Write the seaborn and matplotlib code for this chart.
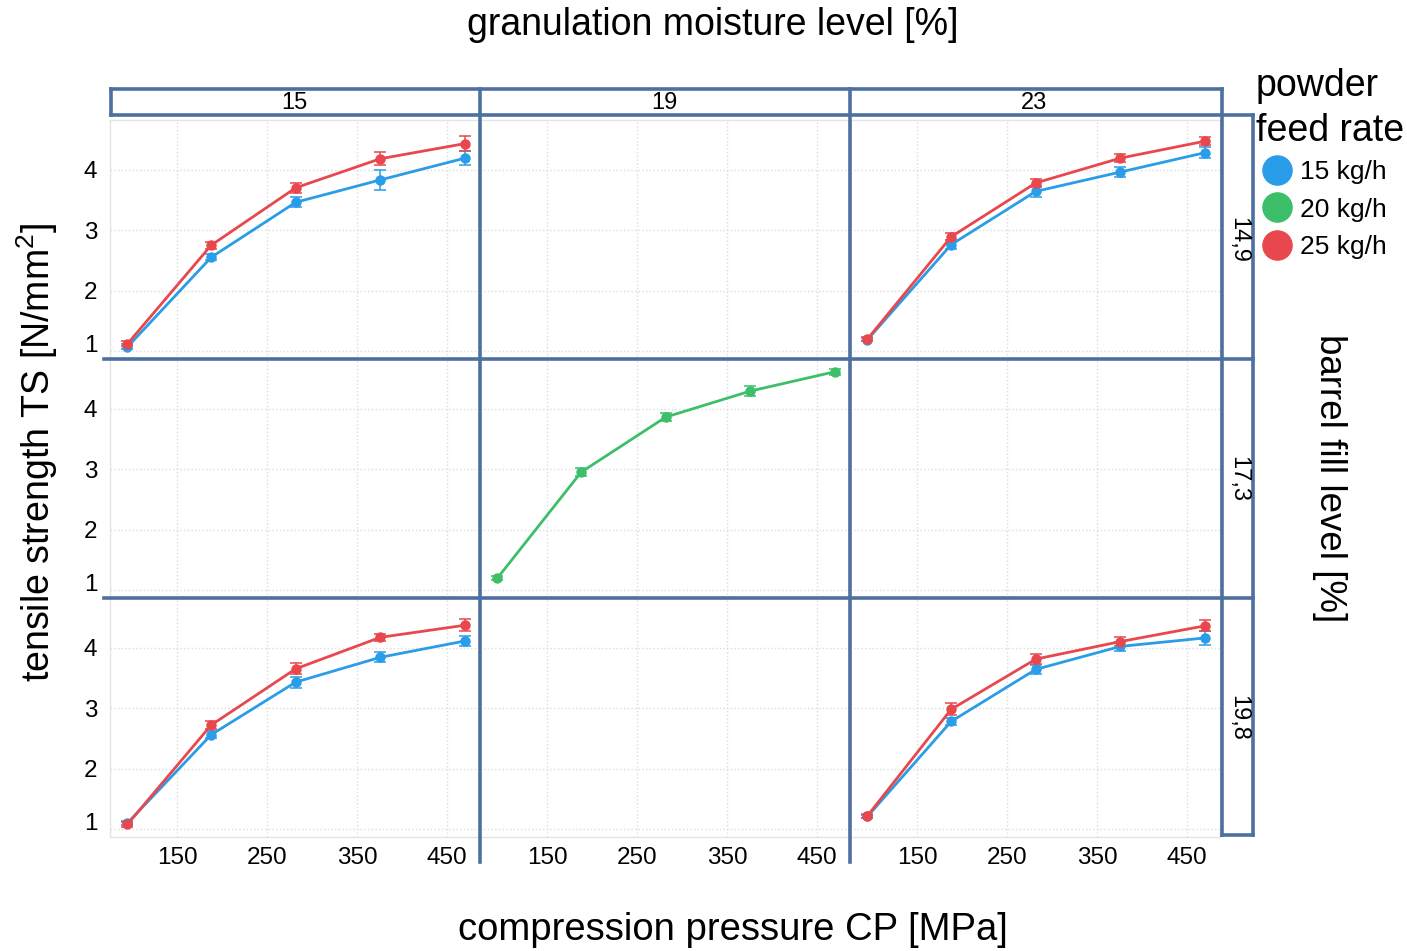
import matplotlib
matplotlib.use("Agg")
import matplotlib.pyplot as plt
from matplotlib.lines import Line2D
import matplotlib.transforms as mtransforms
import numpy as np
import pandas as pd
import seaborn as sns

# ---- data -------------------------------------------------------------
pressure = [95, 188, 282, 376, 470]            # compression pressure CP [MPa]
moisture_levels = ["15", "19", "23"]            # granulation moisture level [%]
fill_levels = ["14,9", "17,3", "19,8"]          # barrel fill level [%]
feed_rates = ["15 kg/h", "20 kg/h", "25 kg/h"]  # powder feed rate

# tensile strength TS [N/mm^2] and its error, per (fill level, moisture, feed rate)
ts_149_15_15 = [1.07, 2.55, 3.46, 3.83, 4.19]
ts_149_15_25 = [1.12, 2.75, 3.70, 4.18, 4.43]
ts_149_23_15 = [1.19, 2.76, 3.64, 3.96, 4.28]
ts_149_23_25 = [1.20, 2.89, 3.78, 4.19, 4.47]
ts_173_19_20 = [1.20, 2.95, 3.86, 4.29, 4.61]
ts_198_15_15 = [1.10, 2.56, 3.43, 3.84, 4.11]
ts_198_15_25 = [1.08, 2.72, 3.65, 4.17, 4.37]
ts_198_23_15 = [1.21, 2.78, 3.64, 4.02, 4.16]
ts_198_23_25 = [1.22, 2.98, 3.81, 4.10, 4.36]

err_149_15_15 = [0.04, 0.05, 0.08, 0.16, 0.11]
err_149_15_25 = [0.04, 0.06, 0.08, 0.11, 0.13]
err_149_23_15 = [0.03, 0.07, 0.09, 0.08, 0.09]
err_149_23_25 = [0.03, 0.06, 0.06, 0.07, 0.07]
err_173_19_20 = [0.03, 0.07, 0.06, 0.08, 0.05]
err_198_15_15 = [0.03, 0.06, 0.09, 0.08, 0.08]
err_198_15_25 = [0.04, 0.07, 0.09, 0.06, 0.10]
err_198_23_15 = [0.03, 0.06, 0.07, 0.08, 0.11]
err_198_23_25 = [0.03, 0.10, 0.08, 0.08, 0.09]

series = [
    ("14,9", "15", "15 kg/h", ts_149_15_15, err_149_15_15),
    ("14,9", "15", "25 kg/h", ts_149_15_25, err_149_15_25),
    ("14,9", "23", "15 kg/h", ts_149_23_15, err_149_23_15),
    ("14,9", "23", "25 kg/h", ts_149_23_25, err_149_23_25),
    ("17,3", "19", "20 kg/h", ts_173_19_20, err_173_19_20),
    ("19,8", "15", "15 kg/h", ts_198_15_15, err_198_15_15),
    ("19,8", "15", "25 kg/h", ts_198_15_25, err_198_15_25),
    ("19,8", "23", "15 kg/h", ts_198_23_15, err_198_23_15),
    ("19,8", "23", "25 kg/h", ts_198_23_25, err_198_23_25),
]

rows = []
for fill, moist, rate, ts, err in series:
    for cp, v, e in zip(pressure, ts, err):
        rows.append({"fill": fill, "moisture": moist, "rate": rate,
                     "CP": cp, "TS": v, "err": e})
df = pd.DataFrame(rows)

palette = {"15 kg/h": "#2a9de8", "20 kg/h": "#3dbf6a", "25 kg/h": "#e8484d"}
frame = "#4d70a0"

# ---- style ------------------------------------------------------------
sns.set_theme(style="white")
plt.rcParams["font.family"] = ["Liberation Sans", "DejaVu Sans"]
plt.rcParams["mathtext.fontset"] = "custom"
plt.rcParams["mathtext.rm"] = "Liberation Sans"
plt.rcParams["mathtext.it"] = "Liberation Sans"
plt.rcParams["text.color"] = "black"
plt.rcParams["xtick.color"] = "black"
plt.rcParams["ytick.color"] = "black"

W, H = 1407, 951
fig = plt.figure(figsize=(W / 100, H / 100), dpi=100)


def fx(x):
    return x / W


def fy(y):
    return 1 - y / H


col_left = [110, 480, 850]
col_w = 370
row_top = [120, 359, 598]
row_h = 239

tick_fs = 17.5
for r, fill in enumerate(fill_levels):
    for c, moist in enumerate(moisture_levels):
        ax = fig.add_axes([fx(col_left[c]), fy(row_top[r] + row_h),
                           col_w / W, row_h / H])
        sub = df[(df["fill"] == fill) & (df["moisture"] == moist)]
        ax.set_xlim(75.6, 486.7)
        ax.set_ylim(0.87, 4.82)
        ax.set_xticks([150, 250, 350, 450])
        ax.set_yticks([1, 2, 3, 4])
        ax.grid(True, color="#dcdcdc", linestyle=":", linewidth=1.0)
        for s in ax.spines.values():
            s.set_color("#e4e4e4")
            s.set_linewidth(1.0)
        ax.tick_params(length=0, labelsize=tick_fs)
        if len(sub):
            for rate, g in sub.groupby("rate"):
                ax.errorbar(g["CP"], g["TS"], yerr=g["err"], fmt="none",
                            ecolor=palette[rate], elinewidth=1.3, capsize=4.5,
                            capthick=1.3, alpha=0.85, zorder=2)
            sns.lineplot(data=sub, x="CP", y="TS", hue="rate", palette=palette,
                         marker="o", markersize=7.5, markeredgewidth=0,
                         linewidth=2.0, legend=False, ax=ax, zorder=3)
        ax.set_xlabel("")
        ax.set_ylabel("")
        if c == 0:
            ax.tick_params(axis="y", pad=9)
            shift = mtransforms.ScaledTranslation(0, 8 / 100, fig.dpi_scale_trans)
            for lab in ax.get_yticklabels():
                if lab.get_text() == "1":
                    lab.set_transform(lab.get_transform() + shift)
        else:
            ax.set_yticklabels([])
        if r == 2:
            ax.tick_params(axis="x", pad=7)
        else:
            ax.set_xticklabels([])


def hline(y, x0, x1):
    fig.add_artist(Line2D([fx(x0), fx(x1)], [fy(y), fy(y)], color=frame,
                          linewidth=2.6, solid_capstyle="projecting"))


def vline(x, y0, y1):
    fig.add_artist(Line2D([fx(x), fx(x)], [fy(y0), fy(y1)], color=frame,
                          linewidth=2.6, solid_capstyle="projecting"))


# column strip
hline(89, 111, 1222)
hline(114.5, 111, 1253)
vline(111, 89, 114.5)
vline(479.5, 89, 862)
vline(850, 89, 862)
vline(1221.5, 89, 835)
# row separators and row strip
hline(358.5, 104, 1253)
hline(597.5, 104, 1253)
hline(835, 1221.5, 1253)
vline(1253, 114.5, 835)

strip_fs = 17
for c, moist in enumerate(moisture_levels):
    fig.text(fx(col_left[c] + col_w / 2 - 1), fy(103), moist, ha="center",
             va="center", fontsize=strip_fs)
for r, fill in enumerate(fill_levels):
    fig.text(fx(1238), fy(row_top[r] + row_h / 2), fill, ha="center",
             va="center", rotation=-90, fontsize=strip_fs)

fig.text(fx(713), fy(25), "granulation moisture level [%]", ha="center",
         va="center", fontsize=27)
fig.text(fx(733), fy(930), "compression pressure CP [MPa]", ha="center",
         va="center", fontsize=27.5)
fig.text(fx(37), fy(452), r"tensile strength TS [N/mm$^2$]", ha="center",
         va="center", rotation=90, fontsize=27)
fig.text(fx(1330), fy(478), "barrel fill level [%]", ha="center",
         va="center", rotation=-90, fontsize=26.5)

handles = [Line2D([], [], linestyle="", marker="o", markersize=21,
                  markerfacecolor=palette[k], markeredgecolor=palette[k],
                  label=k) for k in feed_rates]
leg = fig.legend(handles=handles, title="powder\nfeed rate", loc="upper left",
                 bbox_to_anchor=(fx(1256), fy(68)), frameon=False,
                 fontsize=19, title_fontsize=27, handletextpad=0.05,
                 labelspacing=0.5, borderaxespad=0, borderpad=0,
                 handlelength=1.6)
leg.get_title().set_linespacing(1.33)
leg._legend_box.align = "left"
leg._legend_box.sep = 8

fig.savefig("out.png", dpi=100, facecolor="white")
